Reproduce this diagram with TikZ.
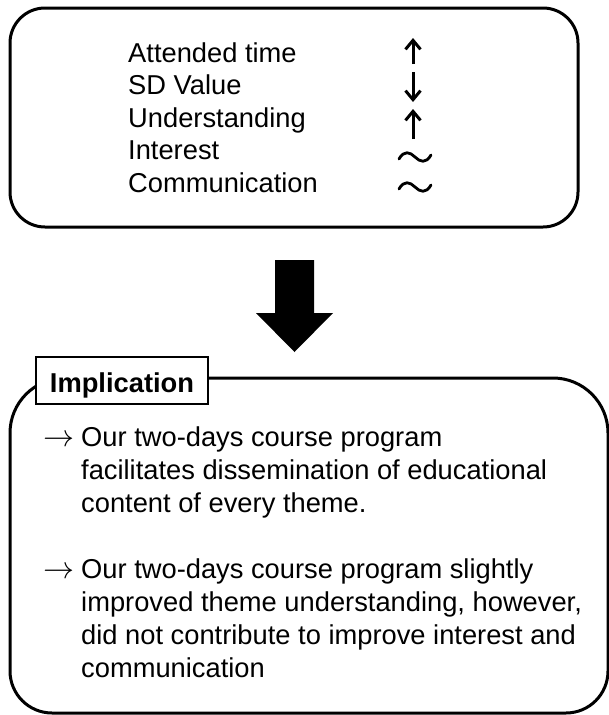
\documentclass[tikz,border=0pt]{standalone}
\usepackage{fix-cm}
\usepackage{fontspec}
\setmainfont{Liberation Sans}
\usetikzlibrary{arrows.meta}
\begin{document}
\begin{tikzpicture}[x=1pt,y=-1pt,
  frame/.style={line width=3pt},
  txt/.style={inner sep=0pt, anchor=base west, font=\fontsize{27.3}{32}\selectfont},
  lead/.style={inner sep=0pt, anchor=base west, font=\fontsize{31}{32}\selectfont},
  trend/.style={line width=3pt, -{Straight Barb[length=9pt,width=15pt,line width=3pt]}},
  flat/.style={line width=2.8pt, line cap=round},
  label/.style={draw, line width=2.5pt, fill=white, inner sep=0pt,
    minimum width=172pt, minimum height=47pt, text height=23pt, text depth=0pt,
    font=\fontsize{27.3}{32}\selectfont\bfseries}]
\useasboundingbox (0,0) rectangle (609,715);

% results box
\node[draw, frame, rounded corners=35pt, minimum width=568pt, minimum height=219pt, inner sep=0pt]
  (res) at (294,117.5) {};
\node[txt] (t1) at (128,62)    {Attended time};
\node[txt] (t2) at (128,94.5)  {SD Value};
\node[txt] (t3) at (128,127)   {Understanding};
\node[txt] (t4) at (128,159.5) {Interest};
\node[txt] (t5) at (128,192)   {Communication};

% trend marks
\coordinate (a1s) at (413,64);  \coordinate (a1e) at (413,38);
\coordinate (a2s) at (413,72);  \coordinate (a2e) at (413,102);
\coordinate (a3s) at (413,139); \coordinate (a3e) at (413,109);
\draw[trend] (a1s) -- (a1e);
\draw[trend] (a2s) -- (a2e);
\draw[trend] (a3s) -- (a3e);
\foreach \yy in {157,187}{
  \draw[flat] (399,\yy+2) .. controls (404,\yy-7) and (410,\yy-5) .. (415,\yy)
              .. controls (420,\yy+5) and (426,\yy+7) .. (431,\yy-2);
}

% big downward arrow
\fill (275,260) -- (314,260) -- (314,313) -- (333,313) -- (294.5,352)
      -- (256,313) -- (275,313) -- cycle;

% implication box
\draw[frame] (65,378) -- (553,378) arc[start angle=270, end angle=360, radius=55]
  -- (608,671) arc[start angle=0, end angle=90, radius=42]
  -- (52,713) arc[start angle=90, end angle=180, radius=42]
  -- (10,433) arc[start angle=180, end angle=270, radius=55] -- cycle;
\node[label] (impl) at (122,380.5) {Implication};

\node[lead] (r1) at (43,446) {$\rightarrow$};
\node[txt] (p1) at (81,446) {Our two-days course program};
\node[txt] (p2) at (81,479) {facilitates dissemination of educational};
\node[txt] (p3) at (81,512) {content of every theme.};
\node[lead] (r2) at (43,578) {$\rightarrow$};
\node[txt] (q1) at (81,578) {Our two-days course program slightly};
\node[txt] (q2) at (81,611) {improved theme understanding, however,};
\node[txt] (q3) at (81,644) {did not contribute to improve interest and};
\node[txt] (q4) at (81,677) {communication};
\end{tikzpicture}
\end{document}
